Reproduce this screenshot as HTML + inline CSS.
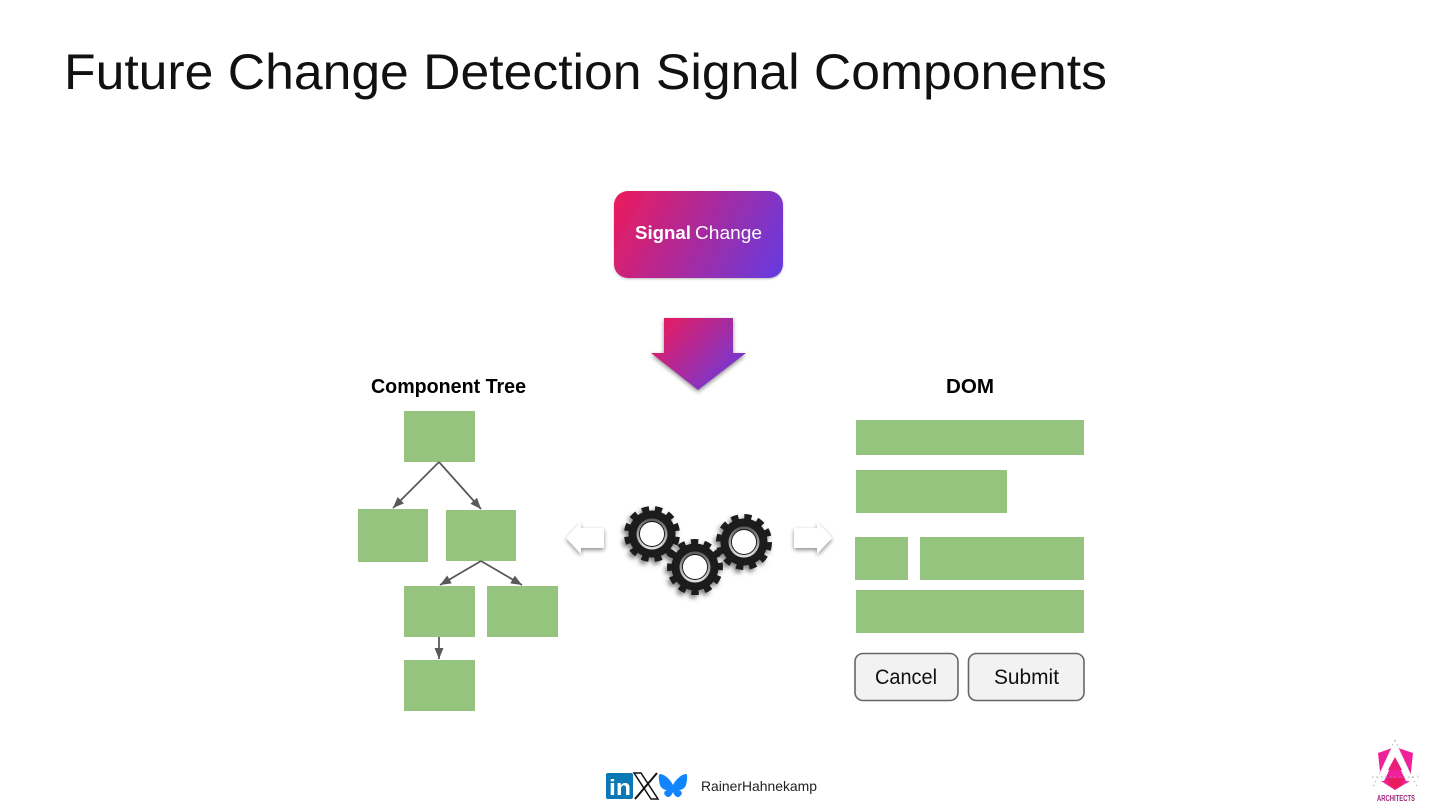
<!DOCTYPE html>
<html>
<head>
<meta charset="utf-8">
<style>
html,body{margin:0;padding:0;background:#fff;width:1440px;height:810px;overflow:hidden}
svg{display:block}
text{font-family:"Liberation Sans",sans-serif}
</style>
</head>
<body>
<svg width="1440" height="810" viewBox="0 0 1440 810" xmlns="http://www.w3.org/2000/svg">
<defs>
<linearGradient id="g1" gradientUnits="userSpaceOnUse" x1="620" y1="195" x2="778" y2="275">
<stop offset="0" stop-color="#e81c5f"/><stop offset="1" stop-color="#683ade"/>
</linearGradient>
<linearGradient id="g2" gradientUnits="userSpaceOnUse" x1="660" y1="320" x2="735" y2="388">
<stop offset="0" stop-color="#e81c5f"/><stop offset="1" stop-color="#683ade"/>
</linearGradient>
<linearGradient id="ring" x1="0" y1="0" x2="0" y2="1">
<stop offset="0" stop-color="#5a5a5a"/><stop offset="1" stop-color="#e6e6e6"/>
</linearGradient>
<filter id="sh" x="-30%" y="-30%" width="170%" height="170%">
<feDropShadow dx="0" dy="1" stdDeviation="1" flood-color="#000" flood-opacity=".28"/>
</filter>
<filter id="sha" x="-30%" y="-30%" width="170%" height="170%">
<feDropShadow dx="0" dy="2" stdDeviation="2" flood-color="#000" flood-opacity=".45"/>
</filter>
<filter id="shg" x="-30%" y="-30%" width="170%" height="170%">
<feDropShadow dx="-2" dy="3" stdDeviation="2.500" flood-color="#000" flood-opacity=".5"/>
</filter>
<marker id="ah" markerUnits="userSpaceOnUse" markerWidth="12" markerHeight="11" refX="11" refY="5" orient="auto">
<path d="M0 0.500L11 5L0 9.500z" fill="#595959"/>
</marker>
</defs>

<text x="64" y="89" font-size="50" textLength="1043" lengthAdjust="spacingAndGlyphs" fill="#111">Future Change Detection Signal Components</text>

<rect x="614" y="191" width="169" height="87" rx="14" fill="url(#g1)" filter="url(#sh)"/>
<text x="635" y="239" font-size="18" fill="#fff" font-weight="bold" textLength="56" lengthAdjust="spacingAndGlyphs">Signal</text>
<text x="695" y="239" font-size="18" fill="#fff" textLength="67" lengthAdjust="spacingAndGlyphs">Change</text>

<path d="M664 318H733V353H746L698 390L651 353H664z" fill="url(#g2)" filter="url(#sha)"/>

<text x="371" y="393" font-size="20" font-weight="bold" fill="#000" textLength="155" lengthAdjust="spacingAndGlyphs">Component Tree</text>
<text x="946" y="393" font-size="20" font-weight="bold" fill="#000" textLength="48" lengthAdjust="spacingAndGlyphs">DOM</text>

<g fill="#94c47d">
<rect x="404" y="411" width="71" height="51"/>
<rect x="358" y="509" width="70" height="53"/>
<rect x="446" y="510" width="70" height="51"/>
<rect x="404" y="586" width="71" height="51"/>
<rect x="487" y="586" width="71" height="51"/>
<rect x="404" y="660" width="71" height="51"/>
<rect x="856" y="420" width="228" height="35"/>
<rect x="856" y="470" width="151" height="43"/>
<rect x="855" y="537" width="53" height="43"/>
<rect x="920" y="537" width="164" height="43"/>
<rect x="856" y="590" width="228" height="43"/>
</g>

<g stroke="#595959" stroke-width="1.800" fill="none">
<path d="M439 462L393 508" marker-end="url(#ah)"/>
<path d="M439 462L481 509" marker-end="url(#ah)"/>
<path d="M481 561L440 585" marker-end="url(#ah)"/>
<path d="M481 561L522 585" marker-end="url(#ah)"/>
<path d="M439 637V659" marker-end="url(#ah)"/>
</g>

<path d="M566 538L581 522V528H604V548H581V554z" fill="#fff" filter="url(#sha)"/>
<path d="M832 538L817 522V528H794V548H817V554z" fill="#fff" filter="url(#sha)"/>

<g filter="url(#shg)">
<g transform="translate(652 534) rotate(8)">
<circle r="23.500" fill="#1a1a1a"/>
<circle r="25" fill="none" stroke="#1a1a1a" stroke-width="6" pathLength="24" stroke-dasharray="1.100 .9"/>
</g>
<g transform="translate(695 567) rotate(22)">
<circle r="23.500" fill="#1a1a1a"/>
<circle r="25" fill="none" stroke="#1a1a1a" stroke-width="6" pathLength="24" stroke-dasharray="1.100 .9"/>
</g>
<g transform="translate(744 542) rotate(2)">
<circle r="23.500" fill="#1a1a1a"/>
<circle r="25" fill="none" stroke="#1a1a1a" stroke-width="6" pathLength="24" stroke-dasharray="1.100 .9"/>
</g>
</g>
<g>
<circle cx="652" cy="534" r="15.500" fill="url(#ring)"/>
<circle cx="652" cy="534" r="12.500" fill="#fff" stroke="#111" stroke-width=".9"/>
<circle cx="695" cy="567" r="15.500" fill="url(#ring)"/>
<circle cx="695" cy="567" r="12.500" fill="#fff" stroke="#111" stroke-width=".9"/>
<circle cx="744" cy="542" r="15.500" fill="url(#ring)"/>
<circle cx="744" cy="542" r="12.500" fill="#fff" stroke="#111" stroke-width=".9"/>
</g>

<rect x="855" y="653.500" width="103" height="47" rx="8" fill="#f2f2f2" stroke="#666" stroke-width="1.600"/>
<rect x="968.500" y="653.500" width="115.500" height="47" rx="8" fill="#f2f2f2" stroke="#666" stroke-width="1.600"/>
<text x="875" y="684" font-size="21" fill="#111" textLength="62" lengthAdjust="spacingAndGlyphs">Cancel</text>
<text x="994" y="684" font-size="21" fill="#111" textLength="65" lengthAdjust="spacingAndGlyphs">Submit</text>

<!-- social icons -->
<rect x="606" y="773" width="27" height="26" rx="2" fill="#0a78b5"/>
<text x="609" y="795" font-size="22" font-weight="bold" fill="#fff" textLength="22" lengthAdjust="spacingAndGlyphs">in</text>
<path d="M634 773H641L658 799H651z" fill="#fff" stroke="#111" stroke-width="1.500"/>
<path d="M657 773L635 799" stroke="#111" stroke-width="2" fill="none"/>
<path d="M673 785C670 779 664 774 660 774C658 774 659 782 660 785C661 788 664 790 667 790C664 791 663 794 666 796C669 799 672 795 673 792C674 795 677 799 680 796C683 794 682 791 679 790C682 790 685 788 686 785C687 782 688 774 686 774C682 774 676 779 673 785z" fill="#1185fe"/>
<text x="701" y="791" font-size="14" fill="#222" textLength="116" lengthAdjust="spacingAndGlyphs">RainerHahnekamp</text>

<!-- logo -->
<path d="M1378 753L1395 747L1413 753L1410 781L1395 790L1381 781z" fill="#f0209a"/>
<path d="M1395 740L1376 781H1384L1395 758L1406 781H1414z" fill="#fff"/>
<path d="M1395 757L1402 770H1388z" fill="#e8207a"/>
<path d="M1387 778H1404L1402 785L1395 789L1389 785z" fill="#e81c5f"/>
<path d="M1395 740L1373 787M1395 740L1417 787M1372 777H1419" stroke="#999" stroke-width=".7" stroke-dasharray="1.500 3" fill="none"/>
<text x="1377" y="801" font-size="8" font-weight="bold" fill="#a0267f" textLength="38" lengthAdjust="spacingAndGlyphs">ARCHITECTS</text>
</svg>
</body>
</html>
